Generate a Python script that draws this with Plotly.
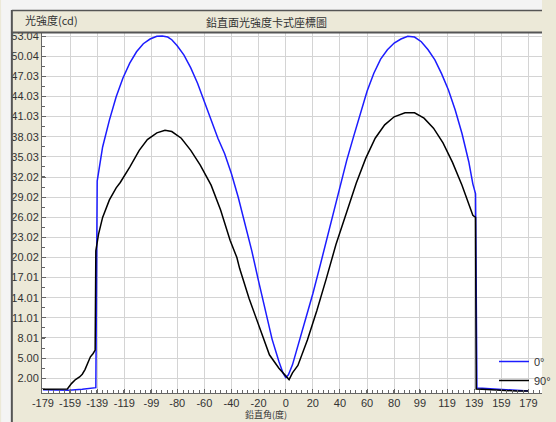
import plotly.graph_objects as go

# ---- data ----
ang_0 = [-179, -170, -160, -150, -145, -141, -140, -139, -137, -135, -130, -125, -120, -115, -110,
         -105, -100, -95, -91, -87, -84, -80, -75, -70, -65, -60, -55, -50, -45, -40, -35, -30,
         -25, -20, -15, -10, -5, -2, 0, 2, 5, 10, 15, 20, 25, 30, 35, 40, 45, 50, 55, 60, 65, 70,
         75, 80, 85, 90, 95, 100, 105, 110, 115, 120, 125, 130, 135, 138, 140, 141, 145, 150,
         160, 170, 179]
val_0 = [0.3, 0.3, 0.2, 0.35, 0.45, 0.55, 0.6, 31.4, 34.0, 36.5, 40.5, 44.0, 46.8, 49.0, 50.7,
         51.9, 52.6, 53.0, 53.04, 52.9, 52.5, 51.6, 50.2, 48.3, 46.0, 43.3, 40.4, 37.8, 35.5, 32.5,
         29.0, 25.0, 21.0, 16.5, 12.0, 7.8, 4.5, 2.8, 2.1, 2.5, 4.0, 7.5, 11.0, 14.6, 18.5, 22.5,
         26.3, 30.6, 34.5, 38.0, 41.5, 44.8, 47.5, 49.6, 51.0, 52.0, 52.6, 53.0, 52.9, 52.2, 51.0,
         49.5, 47.4, 45.0, 42.0, 38.5, 34.3, 31.0, 29.5, 0.55, 0.5, 0.45, 0.3, 0.15, 0.1]

ang_90 = [-179, -170, -161, -158, -155, -152, -150, -148, -146, -144, -142, -140.5, -140, -138,
          -135, -130, -125, -122, -115, -108, -102, -95, -89, -84, -77, -70, -63, -58, -55, -48,
          -41, -36, -34, -27, -22, -20, -12, -5, 0, 2.5, 5, 9, 16, 23, 30, 37, 45, 52, 59, 66, 73,
          80, 88, 95, 102, 109, 116, 123, 130, 135, 138, 140, 140.5, 145, 150, 160, 170, 179]
val_90 = [0.35, 0.35, 0.4, 1.2, 1.8, 2.2, 2.6, 3.3, 4.3, 5.2, 5.7, 6.2, 21.0, 23.5, 26.0, 28.6,
          30.4, 31.2, 33.5, 36.0, 37.6, 38.6, 39.0, 38.8, 37.8, 36.0, 33.8, 32.0, 30.8, 27.1,
          22.6, 20.0, 18.4, 13.9, 11.0, 9.9, 5.5, 3.5, 2.3, 1.8, 2.8, 3.9, 7.7, 12.1, 16.9, 21.9,
          26.8, 31.1, 34.8, 37.8, 39.8, 41.0, 41.6, 41.6, 40.8, 39.3, 37.1, 34.2, 30.8, 27.8,
          26.3, 26.0, 0.4, 0.35, 0.3, 0.15, 0.1, 0.1]

x_ticks = ["-179", "-159", "-139", "-119", "-99", "-80", "-60", "-40", "-20", "0",
           "20", "40", "60", "80", "99", "119", "139", "159", "179"]
y_ticks = ["53.04", "50.04", "47.03", "44.03", "41.03", "38.03", "35.03", "32.02", "29.02",
           "26.02", "23.02", "20.02", "17.01", "14.01", "11.01", "8.01", "5.00", "2.00"]

series_names = ["0°", "90°"]
series_colors = ["#1c1cff", "#000000"]

# ---- layout geometry (pixels) ----
W, H = 556, 422
L, R, T, B = 42, 0, 33, 29
PW, PH = W - L - R, H - T - B


def px(x):
    return (x - L) / PW


def py(y):
    return (H - B - y) / PH


fig = go.Figure()
for a, v, n, c in [(ang_0, val_0, series_names[0], series_colors[0]),
                   (ang_90, val_90, series_names[1], series_colors[1])]:
    fig.add_trace(go.Scatter(x=a, y=v, mode="lines", name=n,
                             line=dict(color=c, width=1.5)))

tick_font = dict(family="Liberation Sans, Arial, sans-serif", size=11, color="#333333")
cjk = "Noto Sans CJK TC, Noto Sans CJK SC, sans-serif"

fig.update_xaxes(
    range=[-179.7, 189], automargin=False,
    tickmode="array", tickvals=[float(t) for t in x_ticks], ticktext=x_ticks,
    showgrid=True, gridcolor="#d4d4d4", gridwidth=1,
    showline=True, linecolor="#666666", linewidth=1,
    ticks="inside", ticklen=4, tickcolor="#666666",
    minor=dict(tickmode="linear", tick0=-179, dtick=358 / 90, ticks="inside",
               ticklen=3, tickcolor="#666666", showgrid=False),
    tickfont=tick_font, zeroline=False,
)
fig.update_yaxes(
    range=[-0.2, 53.5], automargin=False,
    tickmode="array", tickvals=[float(t) for t in y_ticks], ticktext=y_ticks,
    showgrid=True, gridcolor="#d4d4d4", gridwidth=1,
    showline=True, linecolor="#666666", linewidth=1,
    ticks="inside", ticklen=4, tickcolor="#666666",
    minor=dict(tickmode="linear", tick0=2.0, dtick=51.04 / 34, ticks="inside",
               ticklen=3, tickcolor="#666666", showgrid=False),
    tickfont=tick_font, zeroline=False,
)

shapes = [
    # outer light strips
    dict(type="rect", xref="paper", yref="paper", x0=px(0), x1=px(11), y0=py(H), y1=py(0),
         fillcolor="#f4f4f4", line=dict(width=0), layer="above"),
    dict(type="rect", xref="paper", yref="paper", x0=px(0), x1=px(W), y0=py(10), y1=py(0),
         fillcolor="#f4f4f4", line=dict(width=0), layer="above"),
    # panel borders
    dict(type="line", xref="paper", yref="paper", x0=px(11), x1=px(11), y0=py(H), y1=py(10),
         line=dict(color="#555555", width=2), layer="above"),
    dict(type="line", xref="paper", yref="paper", x0=px(11), x1=px(W), y0=py(10.5), y1=py(10.5),
         line=dict(color="#555555", width=1.5), layer="above"),
    dict(type="line", xref="paper", yref="paper", x0=px(11), x1=px(W), y0=py(32.5), y1=py(32.5),
         line=dict(color="#555555", width=2), layer="above"),
]

annotations = [
    dict(text="光強度(cd)", xref="paper", yref="paper", x=px(22), y=py(20),
         xanchor="left", yanchor="middle", showarrow=False,
         font=dict(family=cjk, size=11, color="#333333")),
    dict(text="鉛直面光強度卡式座標圖", xref="paper", yref="paper", x=px(273), y=py(22),
         xanchor="center", yanchor="middle", showarrow=False,
         font=dict(family=cjk, size=11, color="#333333")),
    dict(text="鉛直角(度)", xref="paper", yref="paper", x=px(272), y=py(422),
         xanchor="center", yanchor="bottom", showarrow=False, borderpad=0,
         font=dict(family=cjk, size=9, color="#333333")),
]

fig.update_layout(
    width=W, height=H,
    margin=dict(l=L, r=R, t=T, b=B, pad=0),
    paper_bgcolor="#ece9d8", plot_bgcolor="#ffffff",
    showlegend=True,
    legend=dict(x=px(507), y=py(395), xanchor="left", yanchor="bottom",
                bgcolor="rgba(255,255,255,0)", borderwidth=0, itemwidth=30,
                tracegroupgap=0,
                font=dict(family="Liberation Sans, Arial, sans-serif", size=11, color="#333333")),
    shapes=shapes, annotations=annotations,
)

fig.write_html("out.html", config={"displayModeBar": False},
               post_script="document.body.style.margin='0';document.body.style.overflow='hidden';")
